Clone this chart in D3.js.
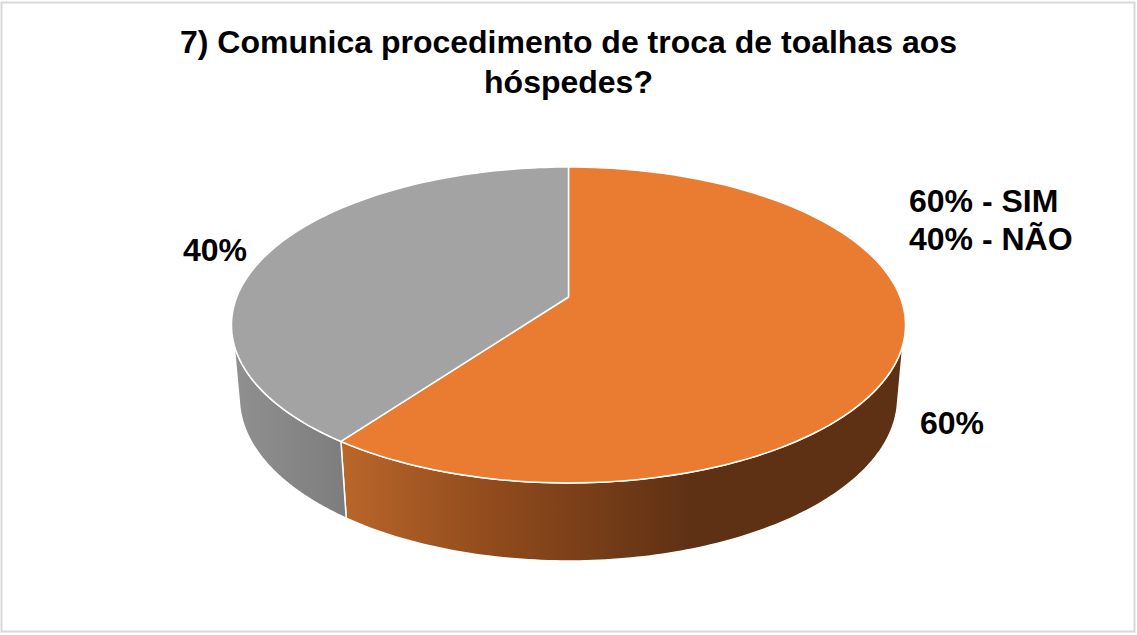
<!DOCTYPE html>
<html>
<head>
<meta charset="utf-8">
<script src="https://cdnjs.cloudflare.com/ajax/libs/d3/7.8.5/d3.min.js"></script>
<style>
  html, body { margin: 0; padding: 0; background: #fff; }
  svg { display: block; }
  text { font-family: "Liberation Sans", Arial, sans-serif; font-weight: bold; fill: #000; }
</style>
</head>
<body>
<div id="chart"></div>
<script>
// data
const categories = ['SIM', 'NÃO'];
const values = [60, 40];
const sliceLabels = ['60%', '40%'];
const titleLines = ['7) Comunica procedimento de troca de toalhas aos', 'hóspedes?'];
const legendLines = ['60% - SIM', '40% - NÃO'];

const width = 1137, height = 635;
const topColors = ['#ea7c31', '#a3a3a3'];
const wallStops = [
  [['0%', '#ba662a'], ['45%', '#8f4a1c'], ['100%', '#5f3114']],
  [['0%', '#909090'], ['100%', '#7d7d7d']]
];

const svg = d3.select('#chart').append('svg')
  .attr('width', width)
  .attr('height', height);

// frame
svg.append('rect')
  .attr('x', 1.5).attr('y', 2.5)
  .attr('width', 1133).attr('height', 629)
  .attr('fill', '#fff')
  .attr('stroke', '#d9d9d9')
  .attr('stroke-width', 2);

// title
svg.append('g').selectAll('text')
  .data(titleLines)
  .join('text')
  .attr('x', 568.5)
  .attr('y', (d, i) => 53 + i * 40)
  .attr('text-anchor', 'middle')
  .attr('font-size', 32)
  .text(d => d);

// perspective tilt of the pie, top disc and the disc underneath
const cx = 568.5;
const persp = -0.177;
const topDisc = {a: 331.7, b: 153, y0: 297};
const botDisc = {a: 324, b: 158, y0: 369};
const project = (disc, angle) => {
  const u = Math.sin(angle), v = -Math.cos(angle);
  const w = 1 + persp * v;
  return [cx + disc.a * u / w, disc.y0 + disc.b * v / w];
};
const rim = (disc, a0, a1) => d3.range(0, 121).map(i => project(disc, a0 + (a1 - a0) * i / 120));
const line = d3.line();

const arcs = d3.pie().sort(null)(values);
const rad = d => d * Math.PI / 180;

// where the side wall silhouette leaves each disc
const clampTop = a => Math.min(Math.max(a, rad(107)), rad(253));
const clampBot = a => Math.min(Math.max(a, rad(103)), rad(257));

const defs = svg.append('defs');
const walls = svg.append('g');

arcs.forEach((d, i) => {
  const t0 = clampTop(d.startAngle), t1 = clampTop(d.endAngle);
  const b0 = clampBot(d.startAngle), b1 = clampBot(d.endAngle);
  const pts = rim(topDisc, t0, t1).concat(rim(botDisc, b1, b0));

  // orange wall runs dark on the right, and is flat past about 60% of its width
  const xs = pts.map(p => p[0]);
  const x0 = d3.min(xs);
  const x1 = i === 0 ? x0 + (d3.max(xs) - x0) * 0.62 : d3.max(xs);
  const grad = defs.append('linearGradient')
    .attr('id', 'wall' + i)
    .attr('gradientUnits', 'userSpaceOnUse')
    .attr('x1', x0).attr('y1', 0)
    .attr('x2', x1).attr('y2', 0);
  grad.selectAll('stop')
    .data(wallStops[i])
    .join('stop')
    .attr('offset', s => s[0])
    .attr('stop-color', s => s[1]);

  walls.append('path')
    .attr('d', line(pts) + 'Z')
    .attr('fill', 'url(#wall' + i + ')')
    .attr('stroke', '#fff')
    .attr('stroke-width', 1.5)
    .attr('stroke-linejoin', 'round');
});

// top face
svg.append('g').selectAll('path')
  .data(arcs)
  .join('path')
  .attr('d', d => line([[cx, topDisc.y0]].concat(rim(topDisc, d.startAngle, d.endAngle))) + 'Z')
  .attr('fill', (d, i) => topColors[i])
  .attr('stroke', '#fff')
  .attr('stroke-width', 1.5)
  .attr('stroke-linejoin', 'round');

// slice labels
const labelPos = [[920, 434], [183, 261]];
svg.append('g').selectAll('text')
  .data(sliceLabels)
  .join('text')
  .attr('x', (d, i) => labelPos[i][0])
  .attr('y', (d, i) => labelPos[i][1])
  .attr('font-size', 32)
  .text(d => d);

// typed-in legend
svg.append('g').selectAll('text')
  .data(legendLines)
  .join('text')
  .attr('x', 909)
  .attr('y', (d, i) => 212 + i * 38)
  .attr('font-size', 32)
  .text(d => d);
</script>
</body>
</html>
